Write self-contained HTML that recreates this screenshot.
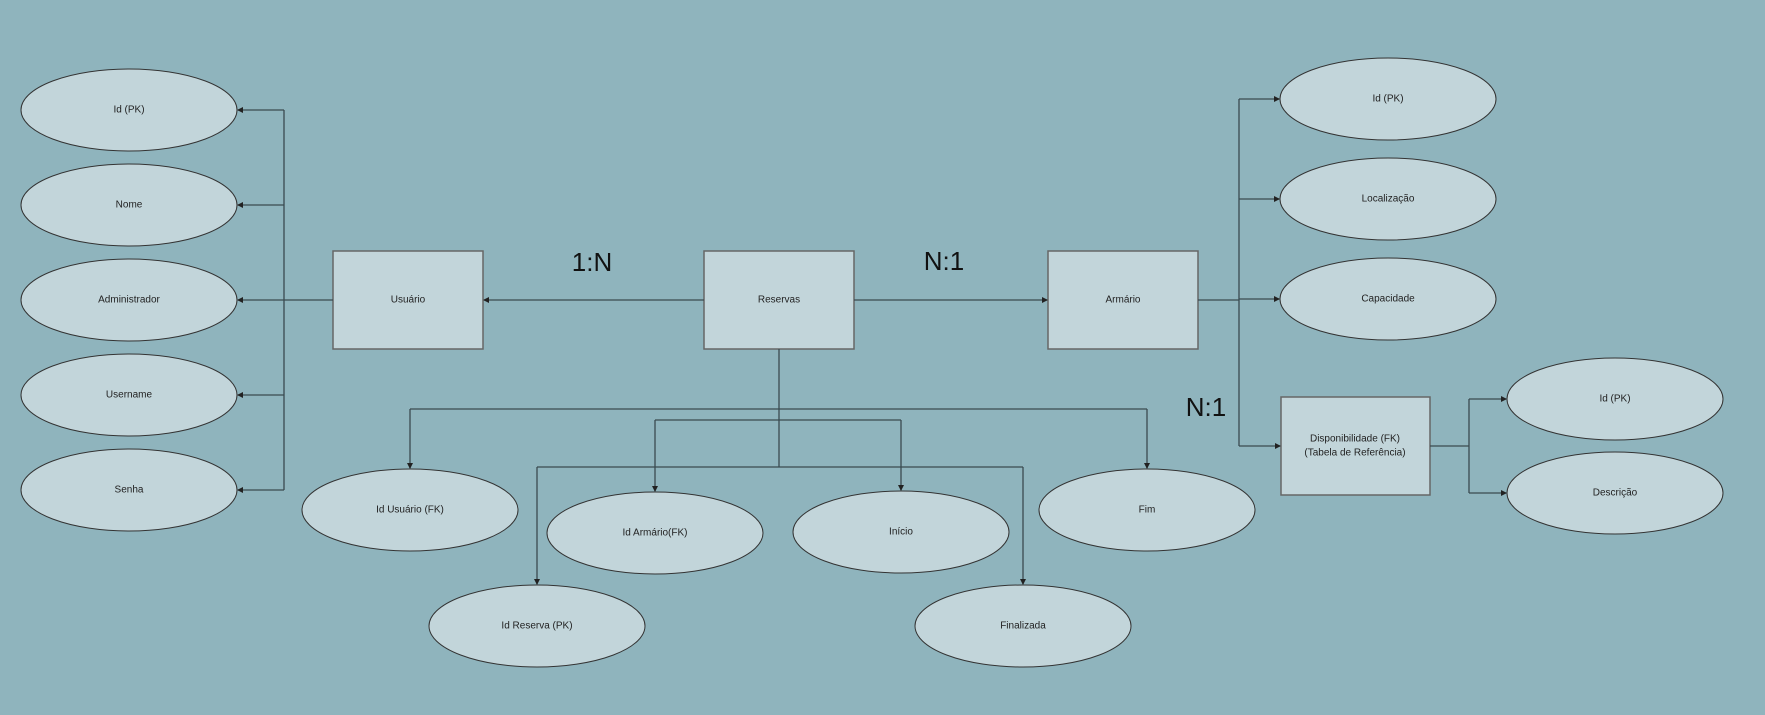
<!DOCTYPE html>
<html><head><meta charset="utf-8"><style>
html,body{margin:0;padding:0;background:#8fb4bd;}
svg{display:block}
text{font-family:"Liberation Sans",sans-serif;font-size:10px;fill:#222;text-anchor:middle;dominant-baseline:middle}
.big{font-size:26px;fill:#111}
</style></head><body>
<svg width="1765" height="715" viewBox="0 0 1765 715" xmlns="http://www.w3.org/2000/svg">
<defs><marker id="a" markerWidth="6" markerHeight="6" refX="5" refY="3" orient="auto" markerUnits="userSpaceOnUse"><path d="M0,0 L6,3 L0,6 z" fill="#222"/></marker></defs>
<rect width="1765" height="715" fill="#8fb4bd"/>
<g fill="#c2d5da" stroke="#333" stroke-width="1">
<ellipse cx="129" cy="110" rx="108" ry="41"/>
<ellipse cx="129" cy="205" rx="108" ry="41"/>
<ellipse cx="129" cy="300" rx="108" ry="41"/>
<ellipse cx="129" cy="395" rx="108" ry="41"/>
<ellipse cx="129" cy="490" rx="108" ry="41"/>
<ellipse cx="1388" cy="99" rx="108" ry="41"/>
<ellipse cx="1388" cy="199" rx="108" ry="41"/>
<ellipse cx="1388" cy="299" rx="108" ry="41"/>
<ellipse cx="1615" cy="399" rx="108" ry="41"/>
<ellipse cx="1615" cy="493" rx="108" ry="41"/>
<ellipse cx="410" cy="510" rx="108" ry="41"/>
<ellipse cx="655" cy="533" rx="108" ry="41"/>
<ellipse cx="901" cy="532" rx="108" ry="41"/>
<ellipse cx="1147" cy="510" rx="108" ry="41"/>
<ellipse cx="537" cy="626" rx="108" ry="41"/>
<ellipse cx="1023" cy="626" rx="108" ry="41"/>
</g>
<g fill="#c2d5da" stroke="#666" stroke-width="1.5">
<rect x="333" y="251" width="150" height="98"/>
<rect x="704" y="251" width="150" height="98"/>
<rect x="1048" y="251" width="150" height="98"/>
<rect x="1281" y="397" width="149" height="98"/>
</g>
<g fill="none" stroke="#3a4a50" stroke-width="1.3">
<path d="M333,300 H284 M284,110 V490"/>
<path d="M284,110 H238" marker-end="url(#a)"/>
<path d="M284,205 H238" marker-end="url(#a)"/>
<path d="M284,300 H238" marker-end="url(#a)"/>
<path d="M284,395 H238" marker-end="url(#a)"/>
<path d="M284,490 H238" marker-end="url(#a)"/>
<path d="M704,300 H484" marker-end="url(#a)"/>
<path d="M854,300 H1047" marker-end="url(#a)"/>
<path d="M1198,300 H1239 M1239,99 V446"/>
<path d="M1239,99 H1279" marker-end="url(#a)"/>
<path d="M1239,199 H1279" marker-end="url(#a)"/>
<path d="M1239,299 H1279" marker-end="url(#a)"/>
<path d="M1239,446 H1280" marker-end="url(#a)"/>
<path d="M1430,446 H1469 M1469,399 V493"/>
<path d="M1469,399 H1506" marker-end="url(#a)"/>
<path d="M1469,493 H1506" marker-end="url(#a)"/>
<path d="M779,349 V467"/>
<path d="M410,409 H1147"/>
<path d="M410,409 V468" marker-end="url(#a)"/>
<path d="M1147,409 V468" marker-end="url(#a)"/>
<path d="M655,420 H901"/>
<path d="M655,420 V491" marker-end="url(#a)"/>
<path d="M901,420 V490" marker-end="url(#a)"/>
<path d="M537,467 H1023"/>
<path d="M537,467 V584" marker-end="url(#a)"/>
<path d="M1023,467 V584" marker-end="url(#a)"/>
</g>
<text x="129" y="110">Id (PK)</text>
<text x="129" y="205">Nome</text>
<text x="129" y="300">Administrador</text>
<text x="129" y="395">Username</text>
<text x="129" y="490">Senha</text>
<text x="408" y="300">Usuário</text>
<text x="779" y="300">Reservas</text>
<text x="1123" y="300">Armário</text>
<text x="1388" y="99">Id (PK)</text>
<text x="1388" y="199">Localização</text>
<text x="1388" y="299">Capacidade</text>
<text x="1355" y="439">Disponibilidade (FK)</text>
<text x="1355" y="453">(Tabela de Referência)</text>
<text x="1615" y="399">Id (PK)</text>
<text x="1615" y="493">Descrição</text>
<text x="410" y="510">Id Usuário (FK)</text>
<text x="655" y="533">Id Armário(FK)</text>
<text x="901" y="532">Início</text>
<text x="1147" y="510">Fim</text>
<text x="537" y="626">Id Reserva (PK)</text>
<text x="1023" y="626">Finalizada</text>
<text class="big" x="592" y="264">1:N</text>
<text class="big" x="944" y="263">N:1</text>
<text class="big" x="1206" y="409">N:1</text>
</svg>
</body></html>
